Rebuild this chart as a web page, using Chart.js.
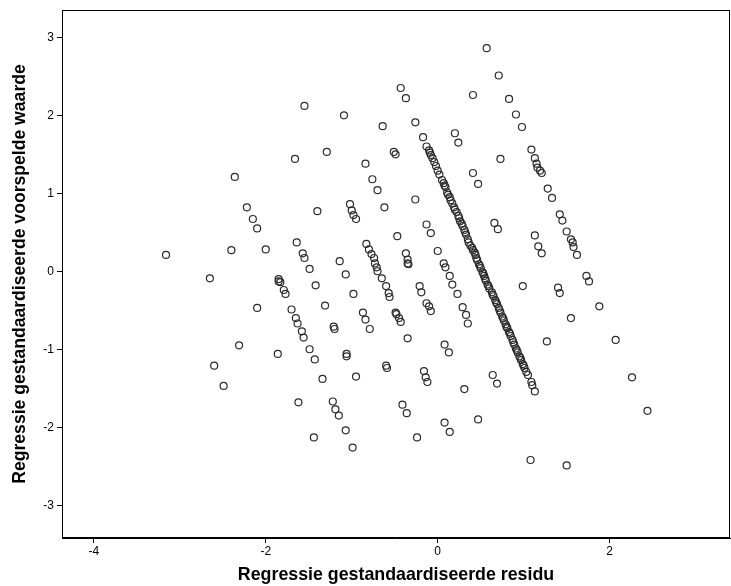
<!DOCTYPE html>
<html>
<head>
<meta charset="utf-8">
<script src="https://cdn.jsdelivr.net/npm/chart.js@4.4.0/dist/chart.umd.min.js"></script>
<style>
  html, body { margin: 0; padding: 0; background: #fff; }
</style>
</head>
<body>
<canvas id="plot" width="731" height="586"></canvas>
<script>
// Scatter: standardized residual (x) vs standardized predicted value (y)

// Loose points, [residu, voorspelde waarde]
const verspreid = [
  [0.57, 2.86], [0.71, 2.51], [0.41, 2.26], [0.83, 2.21], [0.91, 2.01], [0.98, 1.85], [1.09, 1.56],
  [-1.55, 2.12], [-1.09, 2.00], [-0.43, 2.35], [-0.37, 2.22], [-0.64, 1.86], [-0.26, 1.91], [-0.17, 1.72],
  [-0.13, 1.60], [0.20, 1.77], [0.24, 1.65], [-0.51, 1.53], [-0.49, 1.50], [-1.29, 1.53],
  [-1.66, 1.44], [-2.36, 1.21], [-2.22, 0.82], [-2.15, 0.67], [-2.10, 0.55], [-1.64, 0.37], [-2.40, 0.27],
  [-2.00, 0.28], [-1.57, 0.23], [-1.55, 0.17], [-3.16, 0.21],
  [-0.84, 1.38], [-0.76, 1.18], [-0.70, 1.04], [-1.02, 0.86], [-1.00, 0.78], [-0.98, 0.72], [-0.95, 0.67],
  [-0.62, 0.82], [-0.26, 0.92], [-1.40, 0.77], [-0.13, 0.60], [-0.08, 0.49], [-0.47, 0.45], [-0.83, 0.35],
  [-0.80, 0.28], [-0.77, 0.22], [-0.74, 0.17], [-0.37, 0.23], [0.00, 0.26], [-1.14, 0.13], [-0.35, 0.15],
  [0.41, 1.26], [0.47, 1.12], [0.73, 1.44],
  [1.13, 1.45], [1.15, 1.38], [1.16, 1.33], [1.19, 1.29], [1.21, 1.26], [1.28, 1.06], [1.33, 0.94],
  [1.42, 0.73], [1.45, 0.65], [1.50, 0.51], [1.55, 0.41], [1.57, 0.37], [1.58, 0.31], [1.62, 0.21],
  [0.66, 0.62], [0.70, 0.54], [1.13, 0.46], [1.17, 0.32], [1.21, 0.23],
  [-2.65, -0.09], [-1.85, -0.10], [-1.85, -0.13], [-1.83, -0.14], [-1.79, -0.24], [-1.77, -0.29],
  [-2.10, -0.47], [-1.70, -0.49], [-1.65, -0.60], [-1.63, -0.67], [-1.58, -0.77], [-1.56, -0.85],
  [-2.31, -0.95], [-1.86, -1.06], [-1.49, -1.00], [-2.60, -1.21],
  [-1.49, 0.03], [-1.07, -0.04], [-1.42, -0.18], [-0.98, -0.29], [-1.31, -0.44], [-0.73, 0.10],
  [-0.71, 0.05], [-0.70, 0.00], [-0.65, -0.09], [-0.60, -0.19], [-0.57, -0.28], [-0.56, -0.33],
  [-0.35, 0.10], [-0.34, 0.09], [-0.21, -0.19], [-0.19, -0.27], [-0.13, -0.41], [-0.10, -0.45],
  [-0.08, -0.51], [0.07, 0.10], [0.09, 0.05], [0.14, -0.06], [0.17, -0.17], [0.23, -0.29], [0.29, -0.46],
  [0.33, -0.56], [0.35, -0.67], [-0.87, -0.53], [-0.84, -0.62], [-0.79, -0.74], [-0.49, -0.53],
  [-0.48, -0.55], [-0.45, -0.60], [-0.43, -0.65], [-1.21, -0.71], [-1.20, -0.74], [-0.35, -0.86],
  [0.08, -0.94], [0.13, -1.04], [-1.06, -1.06], [-1.06, -1.09], [-1.43, -1.13], [-0.60, -1.21], [-0.59, -1.24],
  [0.99, -0.19], [1.40, -0.21], [1.42, -0.28], [1.73, -0.06], [1.76, -0.13], [1.88, -0.45], [1.55, -0.60],
  [1.27, -0.90], [2.07, -0.88],
  [-2.49, -1.47], [-1.62, -1.68],
  [-1.34, -1.38], [-0.95, -1.35], [-0.16, -1.28], [-0.14, -1.36], [-0.12, -1.42], [0.31, -1.51],
  [-1.22, -1.67], [-1.19, -1.77], [-1.15, -1.85], [-0.41, -1.71], [-0.36, -1.82], [-1.07, -2.04],
  [-1.44, -2.13], [-0.99, -2.26], [-0.24, -2.13], [0.08, -1.94], [0.14, -2.06],
  [0.64, -1.33], [0.69, -1.44], [0.47, -1.90], [1.08, -2.42], [1.50, -2.49], [2.26, -1.36], [2.44, -1.79]
];

// The dense diagonal band in the middle (many overlapping cases)
const dichteLijn = [
  [-0.10, 1.55], [-0.09, 1.52], [-0.08, 1.49], [-0.06, 1.45], [-0.04, 1.40], [-0.02, 1.35], [0.00, 1.29],
  [0.02, 1.24], [0.05, 1.17], [0.07, 1.13], [0.08, 1.10], [0.09, 1.08], [0.11, 1.01], [0.12, 0.98],
  [0.14, 0.95], [0.15, 0.91], [0.17, 0.87], [0.19, 0.82], [0.20, 0.79], [0.22, 0.76], [0.24, 0.71],
  [0.25, 0.68], [0.26, 0.64], [0.28, 0.61], [0.29, 0.58], [0.31, 0.53], [0.32, 0.50], [0.33, 0.47],
  [0.35, 0.41], [0.36, 0.37], [0.38, 0.33], [0.40, 0.30], [0.41, 0.27], [0.43, 0.24], [0.44, 0.21],
  [0.45, 0.17], [0.46, 0.14], [0.48, 0.09], [0.49, 0.07], [0.50, 0.04], [0.52, -0.01], [0.53, -0.03],
  [0.54, -0.06], [0.55, -0.09], [0.56, -0.12], [0.58, -0.17], [0.59, -0.19], [0.60, -0.22], [0.63, -0.27],
  [0.64, -0.30], [0.65, -0.32], [0.67, -0.37], [0.68, -0.40], [0.69, -0.42], [0.71, -0.47], [0.72, -0.50],
  [0.73, -0.53], [0.75, -0.58], [0.76, -0.60], [0.77, -0.63], [0.79, -0.68], [0.80, -0.71], [0.81, -0.73],
  [0.83, -0.78], [0.84, -0.80], [0.85, -0.83], [0.87, -0.88], [0.88, -0.91], [0.89, -0.94], [0.91, -0.99],
  [0.92, -1.01], [0.93, -1.04], [0.95, -1.09], [0.96, -1.11], [0.97, -1.14], [0.99, -1.19], [1.00, -1.21],
  [1.01, -1.24], [1.03, -1.29], [1.05, -1.33], [1.09, -1.42], [1.10, -1.46], [1.13, -1.54]
];

const xTicks = [-4, -2, 0, 2];
const yTicks = [-3, -2, -1, 0, 1, 2, 3];

const FONT = 'Arial, "Liberation Sans", sans-serif';

// box round the plot area (SPSS style)
const frame = {
  id: 'frame',
  afterDraw(chart) {
    const a = chart.chartArea;
    const c = chart.ctx;
    c.save();
    c.strokeStyle = '#000';
    c.lineWidth = 1;
    c.strokeRect(Math.round(a.left) + 0.5, Math.round(a.top) + 0.5,
                 Math.round(a.right - a.left) - 1, Math.round(a.bottom - a.top) - 1);
    c.restore();
  }
};

const points = verspreid.concat(dichteLijn).map(p => ({ x: p[0], y: p[1] }));

new Chart(document.getElementById('plot'), {
  type: 'scatter',
  data: {
    datasets: [{
      data: points,
      pointStyle: 'circle',
      pointRadius: 3.5,
      borderColor: '#2b2b2b',
      borderWidth: 1.2,
      backgroundColor: 'rgba(0,0,0,0)'
    }]
  },
  options: {
    responsive: false,
    animation: false,
    layout: { autoPadding: false, padding: { top: 10, right: 1, left: 0, bottom: 0 } },
    plugins: { legend: { display: false }, tooltip: { enabled: false } },
    scales: {
      x: {
        type: 'linear',
        min: -4.37,
        max: 3.40,
        afterBuildTicks: s => { s.ticks = xTicks.map(v => ({ value: v })); },
        afterFit: s => { s.height = 48; s.paddingLeft = 0; s.paddingRight = 0; },
        grid: { drawOnChartArea: false, tickLength: 5, color: '#000' },
        border: { color: '#000' },
        ticks: { color: '#000', font: { family: FONT, size: 12 }, padding: 1 },
        title: {
          display: true,
          text: 'Regressie gestandaardiseerde residu',
          color: '#000',
          font: { family: FONT, size: 17.8, weight: 'bold' },
          padding: { top: 0, bottom: 0 }
        }
      },
      y: {
        type: 'linear',
        min: -3.42,
        max: 3.35,
        afterBuildTicks: s => { s.ticks = yTicks.map(v => ({ value: v })); },
        afterFit: s => { s.width = 62; s.paddingTop = 0; s.paddingBottom = 0; },
        grid: { drawOnChartArea: false, tickLength: 5, color: '#000' },
        border: { color: '#000' },
        ticks: { color: '#000', font: { family: FONT, size: 12 }, padding: 3 },
        title: {
          display: true,
          text: 'Regressie gestandaardiseerde voorspelde waarde',
          color: '#000',
          font: { family: FONT, size: 17.6, weight: 'bold' },
          padding: { top: 10, bottom: 0 }
        }
      }
    }
  },
  plugins: [frame]
});
</script>
</body>
</html>
